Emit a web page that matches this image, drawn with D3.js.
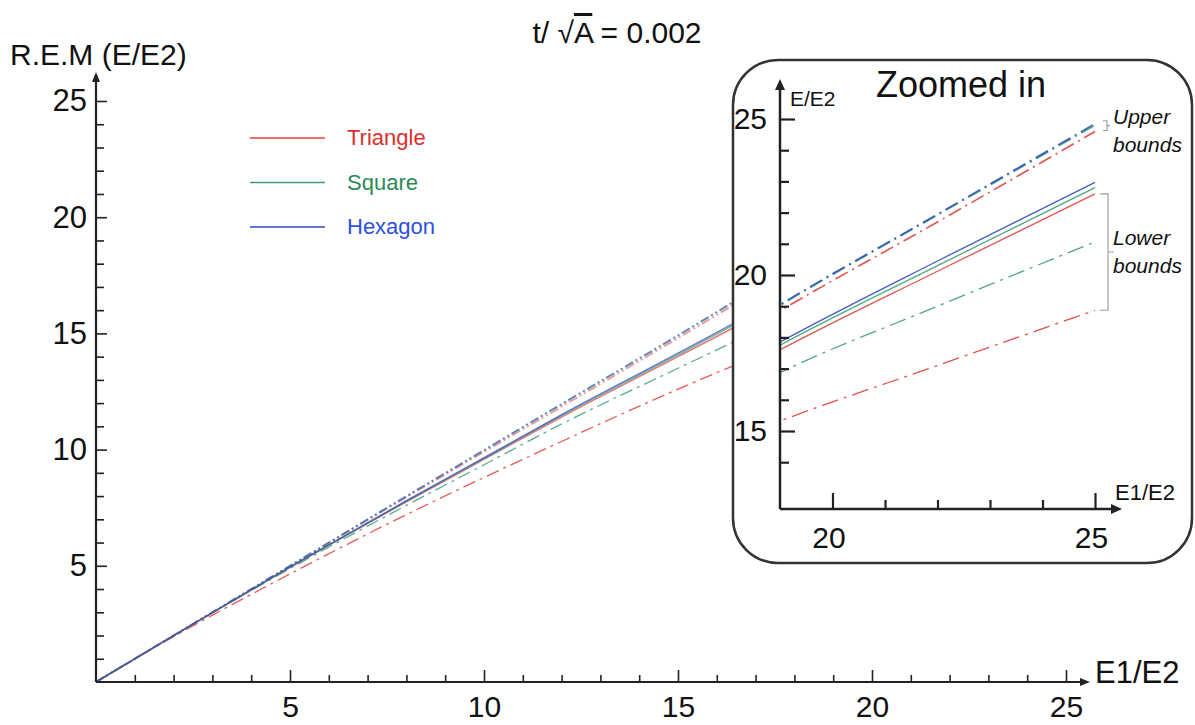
<!DOCTYPE html>
<html>
<head>
<meta charset="utf-8">
<script src="https://cdn.jsdelivr.net/npm/d3@7"></script>
<style>
  body { margin: 0; background: #fff; }
  text { font-family: "Liberation Sans", Arial, sans-serif; fill: #111; }
</style>
</head>
<body>
<div id="chart"></div>
<script>
// data (E1/E2 -> R.E.M)
const xVals     = [0, 2,    5,    8,    10,   12,    15,    17,    19,    22,    25];
const triSolid  = [0, 2.00, 4.93, 7.75, 9.58, 11.40, 14.00, 15.75, 17.60, 20.12, 22.60];
const sqSolid   = [0, 2.00, 4.94, 7.78, 9.62, 11.46, 14.08, 15.87, 17.75, 20.30, 22.80];
const hexSolid  = [0, 2.00, 4.95, 7.80, 9.65, 11.50, 14.15, 15.95, 17.85, 20.45, 22.97];
const triUpper  = [0, 2.00, 4.98, 7.95, 9.90, 11.85, 14.80, 16.80, 18.85, 21.70, 24.60];
const sqUpper   = [0, 2.00, 5.00, 7.99, 9.97, 11.95, 14.90, 16.92, 19.02, 21.92, 24.80];
const hexUpper  = [0, 2.00, 5.00, 8.00, 9.98, 11.96, 14.92, 16.95, 19.05, 21.95, 24.85];
const triLower  = [0, 1.95, 4.65, 7.20, 8.80, 10.35, 12.60, 14.00, 15.32, 17.10, 18.87];
const sqLower   = [0, 2.00, 4.88, 7.60, 9.35, 11.10, 13.50, 15.10, 16.87, 19.00, 21.06];

const legendNames = ['Triangle', 'Square', 'Hexagon'];
const mainTicks = d3.range(1, 26);
const insetXTicks = [20, 21, 22, 23, 24, 25];
const insetYTicks = d3.range(14, 26);

const colors = { Triangle: '#e0403c', Square: '#3a9e74', Hexagon: '#3048c0' };
const textColors = { Triangle: '#d9302c', Square: '#2b8a57', Hexagon: '#2d4fe0' };

const series = [
  { name: 'Triangle', kind: 'lower', vals: triLower },
  { name: 'Square',   kind: 'lower', vals: sqLower },
  { name: 'Triangle', kind: 'upper', vals: triUpper },
  { name: 'Square',   kind: 'upper', vals: sqUpper },
  { name: 'Hexagon',  kind: 'upper', vals: hexUpper },
  { name: 'Triangle', kind: 'solid', vals: triSolid },
  { name: 'Square',   kind: 'solid', vals: sqSolid },
  { name: 'Hexagon',  kind: 'solid', vals: hexSolid }
];

const svgWidth = 1195, svgHeight = 725;
const svg = d3.select('#chart').append('svg')
  .attr('width', svgWidth)
  .attr('height', svgHeight);

// main scales
const x = d3.scaleLinear().domain([0, 25]).range([96, 1066]);
const y = d3.scaleLinear().domain([0, 25]).range([682, 101]);

const dashMain = { solid: null, upper: '9,3,2,3,2,3', lower: '13,5,3,5' };
const dashInset = { solid: null, upper: '14,5,2,5', lower: '17,6,3,6' };
const widthMain = { solid: 1.5, upper: 1.8, lower: 1.3 };
const opacityMain = { solid: 0.7, upper: 0.55, lower: 0.85 };

function pts(s) { return xVals.map((v, i) => [v, s.vals[i]]); }

// main lines
const mainLine = d3.line().curve(d3.curveMonotoneX).x(d => x(d[0])).y(d => y(d[1]));
svg.append('g').selectAll('path')
  .data(series)
  .join('path')
  .attr('d', d => mainLine(pts(d)))
  .attr('fill', 'none')
  .attr('stroke', d => colors[d.name])
  .attr('stroke-opacity', d => opacityMain[d.kind])
  .attr('stroke-width', d => widthMain[d.kind])
  .attr('stroke-dasharray', d => dashMain[d.kind]);

// main x axis
const xAxis = svg.append('g')
  .attr('transform', `translate(0, ${y(0)})`)
  .call(d3.axisBottom(x).tickValues(mainTicks).tickSizeOuter(0).tickSize(-7).tickFormat(d => d % 5 === 0 ? d : ''));
xAxis.select('.domain').remove();
xAxis.selectAll('.tick line').attr('y2', d => d % 5 === 0 ? -12 : -7).attr('stroke', '#222').attr('stroke-width', 1.6);
xAxis.selectAll('.tick text').attr('y', 35).attr('dy', null).attr('font-size', 30).attr('fill', '#111');

// main y axis
const yAxis = svg.append('g')
  .attr('transform', `translate(${x(0)}, 0)`)
  .call(d3.axisLeft(y).tickValues(mainTicks).tickSizeOuter(0).tickSize(-8).tickFormat(d => d % 5 === 0 ? d : ''));
yAxis.select('.domain').remove();
yAxis.selectAll('.tick line').attr('x2', d => d % 5 === 0 ? 11 : 8).attr('stroke', '#222').attr('stroke-width', 1.6);
yAxis.selectAll('.tick text').attr('x', -9).attr('font-size', 31).attr('fill', '#111');

// axis lines with arrows
svg.append('line').attr('x1', x(0)).attr('x2', 1084).attr('y1', y(0)).attr('y2', y(0)).attr('stroke', '#222').attr('stroke-width', 2.2);
svg.append('path').attr('d', `M1090,${y(0)} l-10,-4 l0,8 z`).attr('fill', '#222');
svg.append('line').attr('x1', x(0)).attr('x2', x(0)).attr('y1', y(0)).attr('y2', 78).attr('stroke', '#222').attr('stroke-width', 2.2);
svg.append('path').attr('d', `M${x(0)},72 l-4,10 l8,0 z`).attr('fill', '#222');

svg.append('text').attr('x', 1095).attr('y', 683).attr('font-size', 31).text('E1/E2');
svg.append('text').attr('x', 10).attr('y', 65).attr('font-size', 30).text('R.E.M (E/E2)');

// title
const title = svg.append('text').attr('x', 617).attr('y', 43).attr('text-anchor', 'middle').attr('font-size', 30);
title.append('tspan').text('t/ \u221A');
title.append('tspan').attr('text-decoration', 'overline').text('A');
title.append('tspan').text(' = 0.002');

// legend
const legend = svg.append('g').selectAll('g')
  .data(legendNames)
  .join('g')
  .attr('transform', (d, i) => `translate(250, ${138 + i * 44.5})`);
legend.append('line').attr('x1', 0).attr('x2', 75)
  .attr('stroke', d => colors[d]).attr('stroke-width', 1.5);
legend.append('text').attr('x', 97).attr('y', 7).attr('font-size', 22)
  .style('fill', d => textColors[d]).text(d => d);

// ---------- inset ----------
const inset = svg.append('g');
inset.append('rect')
  .attr('x', 733).attr('y', 60).attr('width', 459).attr('height', 503)
  .attr('rx', 45).attr('ry', 45)
  .attr('fill', '#fff').attr('stroke', '#333').attr('stroke-width', 2.5);

const xIn = d3.scaleLinear().domain([19, 25]).range([780, 1095]);
const yIn = d3.scaleLinear().domain([12.5, 25]).range([509, 119]);

svg.append('defs').append('clipPath').attr('id', 'insetClip')
  .append('rect').attr('x', xIn(19) + 1).attr('y', 80).attr('width', xIn(25) - xIn(19) + 1).attr('height', yIn(12.5) - 80);

const insetLine = d3.line().curve(d3.curveMonotoneX).x(d => xIn(d[0])).y(d => yIn(d[1]));
inset.append('g').attr('clip-path', 'url(#insetClip)')
  .selectAll('path')
  .data(series)
  .join('path')
  .attr('d', d => insetLine(pts(d)))
  .attr('fill', 'none')
  .attr('stroke', d => colors[d.name])
  .attr('stroke-opacity', 0.9)
  .attr('stroke-width', d => d.kind === 'upper' ? 1.6 : 1.3)
  .attr('stroke-dasharray', d => dashInset[d.kind]);

const ixAxis = inset.append('g')
  .attr('transform', `translate(0, ${yIn(12.5)})`)
  .call(d3.axisBottom(xIn).tickValues(insetXTicks).tickSizeOuter(0).tickSize(-9).tickFormat(d => d % 5 === 0 ? d : ''));
ixAxis.select('.domain').remove();
ixAxis.selectAll('.tick line').attr('y2', d => d % 5 === 0 ? -16 : -9).attr('stroke', '#222').attr('stroke-width', 2.2);
ixAxis.selectAll('.tick text').attr('x', -4).attr('y', 39).attr('dy', null).attr('font-size', 30).attr('fill', '#111');

const iyAxis = inset.append('g')
  .attr('transform', `translate(${xIn(19)}, 0)`)
  .call(d3.axisLeft(yIn).tickValues(insetYTicks).tickSizeOuter(0).tickSize(-9).tickFormat(d => d % 5 === 0 ? d : ''));
iyAxis.select('.domain').remove();
iyAxis.selectAll('.tick line').attr('x2', d => d % 5 === 0 ? 15 : 9).attr('stroke', '#222').attr('stroke-width', 2.2);
iyAxis.selectAll('.tick text').attr('x', -13).attr('font-size', 30).attr('fill', '#111');

inset.append('line').attr('x1', xIn(19)).attr('x2', 1116).attr('y1', yIn(12.5)).attr('y2', yIn(12.5)).attr('stroke', '#222').attr('stroke-width', 2.5);
inset.append('path').attr('d', `M1122,${yIn(12.5)} l-11,-5 l0,10 z`).attr('fill', '#222');
inset.append('line').attr('x1', xIn(19)).attr('x2', xIn(19)).attr('y1', yIn(12.5)).attr('y2', 88).attr('stroke', '#222').attr('stroke-width', 2.5);
inset.append('path').attr('d', `M${xIn(19)},79 l-5,11 l10,0 z`).attr('fill', '#222');

inset.append('text').attr('x', 790).attr('y', 106).attr('font-size', 21).text('E/E2');
inset.append('text').attr('x', 1115).attr('y', 500).attr('font-size', 22).text('E1/E2');
inset.append('text').attr('x', 876).attr('y', 97).attr('font-size', 36).text('Zoomed in');

// brackets for bounds
const last = xVals.length - 1;
const bx = xIn(25);
const upTop = yIn(hexUpper[last]) - 3, upBot = yIn(triUpper[last]) - 1;
inset.append('path')
  .attr('d', `M${bx + 8},${upTop} h4 V${upBot} h-4 M${bx + 12},${(upTop + upBot) / 2} h3`)
  .attr('fill', 'none').attr('stroke', '#999').attr('stroke-width', 1.1);
const loTop = yIn(triSolid[last]), loBot = yIn(triLower[last]);
inset.append('path')
  .attr('d', `M${bx + 5},${loTop} h8 V${loBot} h-8 M${bx + 13},${(loTop + loBot) / 2} h6`)
  .attr('fill', 'none').attr('stroke', '#999').attr('stroke-width', 1.1);

const notes = [
  { t: 'Upper', y: 124 }, { t: 'bounds', y: 152 },
  { t: 'Lower', y: 245 }, { t: 'bounds', y: 273 }
];
inset.selectAll('.note')
  .data(notes)
  .join('text')
  .attr('class', 'note')
  .attr('x', 1113).attr('y', d => d.y)
  .attr('font-size', 21).attr('font-style', 'italic')
  .text(d => d.t);
</script>
</body>
</html>
